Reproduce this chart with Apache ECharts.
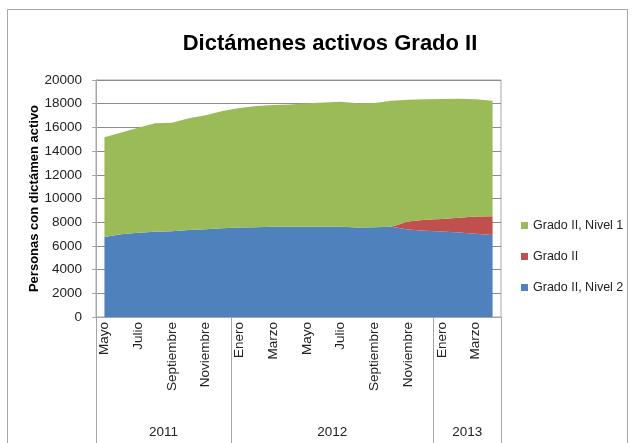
<!DOCTYPE html>
<html>
<head>
<meta charset="utf-8">
<script src="https://cdn.jsdelivr.net/npm/echarts@6/dist/echarts.min.js"></script>
<style>
    html, body { margin: 0; padding: 0; background: #fff; }
    #chart { width: 638px; height: 443px; }
</style>
</head>
<body>
<div id="chart"></div>
<script>
// meses de mayo 2011 a abril 2013
var months = ['Mayo', 'Junio', 'Julio', 'Agosto', 'Septiembre', 'Octubre', 'Noviembre', 'Diciembre',
    'Enero', 'Febrero', 'Marzo', 'Abril', 'Mayo', 'Junio', 'Julio', 'Agosto', 'Septiembre', 'Octubre', 'Noviembre', 'Diciembre',
    'Enero', 'Febrero', 'Marzo', 'Abril'];
var years = ['2011', '2011', '2011', '2011', '2011', '2011', '2011', '2011',
    '2012', '2012', '2012', '2012', '2012', '2012', '2012', '2012', '2012', '2012', '2012', '2012',
    '2013', '2013', '2013', '2013'];

var nivel2 = [6760, 6990, 7100, 7190, 7240, 7350, 7410, 7490, 7550, 7580, 7610, 7610,
    7610, 7610, 7610, 7550, 7580, 7620, 7380, 7270, 7210, 7130, 7020, 6930];
var grado2 = [0, 0, 0, 0, 0, 0, 0, 0, 0, 0, 0, 0,
    0, 0, 0, 0, 0, 0, 680, 930, 1070, 1240, 1460, 1580];
var nivel1 = [8410, 8570, 8870, 9170, 9150, 9430, 9620, 9900, 10090, 10220, 10280, 10330,
    10420, 10500, 10560, 10480, 10480, 10630, 10280, 10170, 10110, 10050, 9890, 9740];

var yearStarts = [0, 8, 20];
var yearMiddles = [3, 13, 21];

var font = 'Liberation Sans';

function area(name, color, data) {
    return {
        name: name,
        type: 'line',
        stack: 'total',
        data: data,
        showSymbol: false,
        lineStyle: { width: 0 },
        areaStyle: { color: color, opacity: 1 },
        itemStyle: { color: color }
    };
}

var option = {
    animation: false,
    textStyle: { fontFamily: font },
    title: {
        text: 'Dictámenes activos Grado II',
        left: 325,
        top: 28,
        textAlign: 'center',
        textStyle: { fontFamily: font, fontSize: 22, fontWeight: 'bold', color: '#000' }
    },
    legend: {
        orient: 'vertical',
        left: 521,
        top: 219,
        padding: 0,
        itemWidth: 7,
        itemHeight: 7,
        itemGap: 18,
        icon: 'rect',
        data: ['Grado II, Nivel 1', 'Grado II', 'Grado II, Nivel 2'],
        textStyle: { fontFamily: font, fontSize: 12.5, color: '#222' }
    },
    grid: {
        left: 96,
        right: 137,
        top: 80,
        bottom: 126,
        show: true,
        borderColor: '#a6a6a6',
        borderWidth: 1
    },
    xAxis: [{
        type: 'category',
        data: months,
        boundaryGap: true,
        axisLine: { lineStyle: { color: '#a6a6a6' } },
        axisTick: { show: false },
        axisLabel: {
            interval: 1,
            rotate: 90,
            margin: 5,
            fontSize: 13.5,
            color: '#222'
        }
    }, {
        type: 'category',
        data: years,
        position: 'bottom',
        boundaryGap: true,
        axisLine: { show: false },
        axisTick: {
            show: true,
            length: 130,
            interval: function (index) { return yearStarts.indexOf(index) >= 0; },
            lineStyle: { color: '#a6a6a6' }
        },
        axisLabel: {
            interval: function (index) { return yearMiddles.indexOf(index) >= 0; },
            margin: 108,
            fontSize: 13.5,
            color: '#222',
            formatter: function (v) { return '{y|' + v + '}'; },
            rich: { y: { fontSize: 13.5, color: '#222', padding: [0, 0, 0, 17] } }
        }
    }],
    yAxis: {
        type: 'value',
        min: 0,
        max: 20000,
        interval: 2000,
        name: 'Personas con dictámen activo',
        nameLocation: 'middle',
        nameGap: 55,
        nameMoveOverlap: false,
        nameTextStyle: { fontFamily: font, fontSize: 13, fontWeight: 'bold', color: '#000' },
        axisLine: { show: true, lineStyle: { color: '#a6a6a6' } },
        axisTick: { show: true, length: 4, lineStyle: { color: '#a6a6a6' } },
        axisLabel: {
            margin: 14,
            fontSize: 13.5,
            color: '#222',
            formatter: function (v) { return String(v); }
        },
        splitLine: { lineStyle: { color: '#8c8c8c' } }
    },
    graphic: [{
        type: 'rect',
        shape: { x: 7.5, y: 9.5, width: 620, height: 450 },
        style: { fill: 'none', stroke: '#a6a6a6', lineWidth: 1 },
        silent: true
    }],
    series: [
        area('Grado II, Nivel 2', '#4F81BD', nivel2),
        area('Grado II', '#C0504D', grado2),
        area('Grado II, Nivel 1', '#9BBB59', nivel1)
    ]
};

var chart = echarts.init(document.getElementById('chart'));
chart.setOption(option);
</script>
</body>
</html>
